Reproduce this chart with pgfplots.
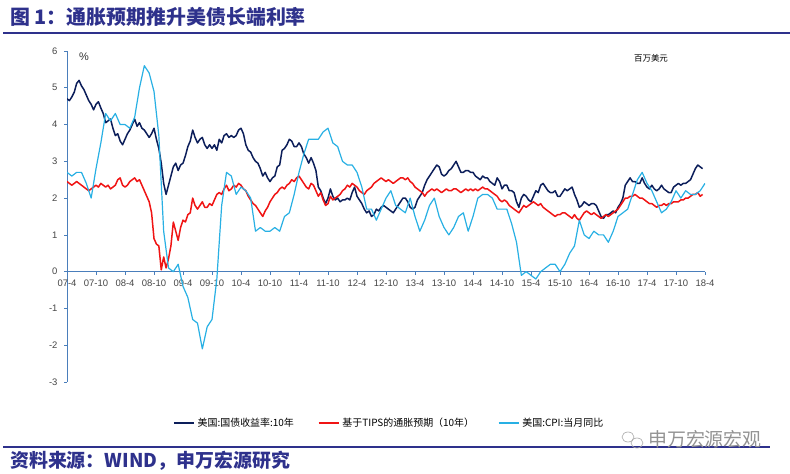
\documentclass[border=0pt]{standalone}
\usepackage{pgfplots}
\pgfplotsset{compat=1.18}
\usepackage{fontspec}
\setmainfont{Liberation Sans}
\newfontfamily\cjk{Noto Sans CJK SC}
\definecolor{navy}{RGB}{12,30,90}
\definecolor{tipsred}{RGB}{240,20,20}
\definecolor{cpiblue}{RGB}{40,176,228}
\definecolor{axisblue}{RGB}{74,126,187}
\definecolor{titleblue}{RGB}{46,49,140}
\definecolor{ticktext}{RGB}{70,70,70}
\begin{document}
\begin{tikzpicture}
\begin{scope}[x=1bp,y=1bp]
\useasboundingbox (0,0) rectangle (790,474);
\fill[white] (0,0) rectangle (790,474);
\node[anchor=west,inner sep=0pt,text=titleblue,font=\cjk\bfseries\fontsize{20}{22}\selectfont] at (10,457) {图 1：通胀预期推升美债长端利率};
\draw[titleblue,line width=1.5bp] (3,441) -- (790,441);
\draw[titleblue,line width=1.5bp] (3,27) -- (770,27);
\node[anchor=west,inner sep=0pt,text=titleblue,font=\cjk\bfseries\fontsize{19}{21}\selectfont] at (10,13) {资料来源：WIND，申万宏源研究};
\draw[gray!70,line width=0.6bp] (628,37) ellipse (6 and 5);
\draw[gray!70,line width=0.6bp] (637,31) ellipse (6 and 5);
\node[anchor=west,inner sep=0pt,text=gray!85,font=\cjk\fontsize{19}{21}\selectfont] at (648,35) {申万宏源宏观};
\node[anchor=center,inner sep=0pt,font=\fontsize{11}{12}\selectfont,text=black!80] at (84,417) {\%};
\node[anchor=center,inner sep=0pt,font=\cjk\fontsize{8.5}{10}\selectfont] at (651,416) {百万美元};
\end{scope}
\begin{axis}[
  at={(67bp,92bp)}, anchor=south west,
  scale only axis, width=638bp, height=331bp,
  xmin=0, xmax=132, ymin=-3, ymax=6,
  axis x line*=middle, axis y line*=left,
  hide obscured x ticks=false, hide obscured y ticks=false,
  axis line style={axisblue,line width=0.9bp},
  xtick={0,6,...,132},
  xticklabels={07-4,07-10,08-4,08-10,09-4,09-10,10-4,10-10,11-4,11-10,12-4,12-10,13-4,13-10,14-4,14-10,15-4,15-10,16-4,16-10,17-4,17-10,18-4},
  ytick={-3,-2,-1,0,1,2,3,4,5,6},
  yticklabels={-3,-2,-1,0,1,2,3,4,5,6},
  tick align=outside, major tick length=3bp,
  tick style={axisblue,line width=0.7bp},
  xticklabel style={font=\fontsize{9.5}{10}\selectfont,text=ticktext,yshift=-2bp},
  yticklabel style={font=\fontsize{9.5}{10}\selectfont,text=ticktext,xshift=-3bp},
  legend columns=3,
  legend style={draw=none,fill=none,at={(0.505,-0.124)},anchor=center,
    font=\cjk\fontsize{10}{12}\selectfont,
    /tikz/every odd column/.append style={column sep=1bp},
    /tikz/every even column/.append style={column sep=22bp}},
  legend image code/.code={\draw[#1] (0bp,0bp) -- (20bp,0bp);},
  line join=round,
]
\addplot[navy,line width=1.5bp] coordinates {(0,4.70)(0.5,4.65)(1,4.75)(1.5,4.88)(2,5.12)(2.5,5.20)(3,5.05)(3.5,4.95)(4,4.80)(4.5,4.65)(5,4.55)(5.5,4.40)(6,4.55)(6.5,4.62)(7,4.45)(7.5,4.30)(8,4.05)(8.5,4.10)(9,4.15)(9.5,3.90)(10,3.70)(10.5,3.75)(11,3.55)(11.5,3.45)(12,3.60)(12.5,3.75)(13,3.85)(13.5,4.00)(14,4.15)(14.5,3.95)(15,4.05)(15.5,3.90)(16,3.85)(16.5,3.75)(17,3.65)(17.5,3.75)(18,3.90)(18.5,3.60)(19,3.35)(19.5,2.95)(20,2.40)(20.5,2.10)(21,2.35)(21.5,2.60)(22,2.85)(22.5,2.95)(23,2.75)(23.5,2.90)(24,2.95)(24.5,3.15)(25,3.40)(25.5,3.55)(26,3.85)(26.5,3.65)(27,3.50)(27.5,3.60)(28,3.65)(28.5,3.45)(29,3.35)(29.5,3.45)(30,3.35)(30.5,3.45)(31,3.30)(31.5,3.60)(32,3.50)(32.5,3.70)(33,3.75)(33.5,3.65)(34,3.70)(34.5,3.65)(35,3.70)(35.5,3.85)(36,3.90)(36.5,3.75)(37,3.45)(37.5,3.30)(38,3.25)(38.5,3.10)(39,3.00)(39.5,2.95)(40,2.80)(40.5,2.60)(41,2.70)(41.5,2.55)(42,2.45)(42.5,2.55)(43,2.60)(43.5,2.85)(44,2.90)(44.5,3.30)(45,3.35)(45.5,3.45)(46,3.60)(46.5,3.55)(47,3.40)(47.5,3.40)(48,3.50)(48.5,3.40)(49,3.20)(49.5,3.10)(50,2.95)(50.5,3.10)(51,2.95)(51.5,2.75)(52,2.30)(52.5,2.20)(53,2.00)(53.5,1.85)(54,2.00)(54.5,2.25)(55,2.05)(55.5,1.95)(56,2.00)(56.5,1.90)(57,1.95)(57.5,1.95)(58,2.00)(58.5,1.95)(59,2.15)(59.5,2.30)(60,2.05)(60.5,1.95)(61,1.85)(61.5,1.70)(62,1.60)(62.5,1.65)(63,1.50)(63.5,1.55)(64,1.70)(64.5,1.65)(65,1.75)(65.5,1.80)(66,1.75)(66.5,1.70)(67,1.65)(67.5,1.60)(68,1.70)(68.5,1.80)(69,1.90)(69.5,2.00)(70,2.00)(70.5,1.90)(71,1.75)(71.5,1.70)(72,1.75)(72.5,1.95)(73,2.05)(73.5,2.15)(74,2.35)(74.5,2.50)(75,2.60)(75.5,2.70)(76,2.80)(76.5,2.90)(77,2.85)(77.5,2.65)(78,2.60)(78.5,2.65)(79,2.75)(79.5,2.80)(80,2.90)(80.5,3.00)(81,2.85)(81.5,2.70)(82,2.70)(82.5,2.75)(83,2.75)(83.5,2.70)(84,2.70)(84.5,2.60)(85,2.55)(85.5,2.50)(86,2.60)(86.5,2.55)(87,2.55)(87.5,2.45)(88,2.40)(88.5,2.35)(89,2.55)(89.5,2.45)(90,2.25)(90.5,2.35)(91,2.35)(91.5,2.20)(92,2.20)(92.5,2.15)(93,1.90)(93.5,1.75)(94,2.00)(94.5,2.10)(95,2.05)(95.5,1.95)(96,1.90)(96.5,2.05)(97,2.20)(97.5,2.15)(98,2.35)(98.5,2.40)(99,2.30)(99.5,2.20)(100,2.15)(100.5,2.15)(101,2.20)(101.5,2.05)(102,2.05)(102.5,2.15)(103,2.25)(103.5,2.20)(104,2.25)(104.5,2.30)(105,2.10)(105.5,1.95)(106,1.75)(106.5,1.80)(107,1.90)(107.5,1.85)(108,1.80)(108.5,1.85)(109,1.85)(109.5,1.80)(110,1.65)(110.5,1.50)(111,1.45)(111.5,1.55)(112,1.55)(112.5,1.60)(113,1.65)(113.5,1.60)(114,1.75)(114.5,1.85)(115,2.00)(115.5,2.35)(116,2.45)(116.5,2.55)(117,2.45)(117.5,2.45)(118,2.40)(118.5,2.40)(119,2.55)(119.5,2.40)(120,2.30)(120.5,2.25)(121,2.35)(121.5,2.25)(122,2.20)(122.5,2.25)(123,2.35)(123.5,2.25)(124,2.20)(124.5,2.15)(125,2.15)(125.5,2.30)(126,2.35)(126.5,2.40)(127,2.35)(127.5,2.40)(128,2.40)(128.5,2.45)(129,2.50)(129.5,2.65)(130,2.80)(130.5,2.90)(131,2.85)(131.5,2.80)};
\addlegendentry{美国:国债收益率:10年}
\addplot[tipsred,line width=1.5bp] coordinates {(0,2.45)(0.5,2.40)(1,2.35)(1.5,2.40)(2,2.45)(2.5,2.40)(3,2.35)(3.5,2.30)(4,2.25)(4.5,2.20)(5,2.25)(5.5,2.30)(6,2.35)(6.5,2.30)(7,2.40)(7.5,2.35)(8,2.30)(8.5,2.35)(9,2.25)(9.5,2.30)(10,2.35)(10.5,2.50)(11,2.55)(11.5,2.35)(12,2.30)(12.5,2.35)(13,2.45)(13.5,2.50)(14,2.55)(14.5,2.45)(15,2.50)(15.5,2.35)(16,2.20)(16.5,2.05)(17,1.90)(17.5,1.60)(18,0.90)(18.5,0.75)(19,0.70)(19.5,0.05)(20,0.40)(20.5,0.10)(21,0.35)(21.5,0.70)(22,1.35)(22.5,1.10)(23,0.85)(23.5,1.20)(24,1.40)(24.5,1.35)(25,1.55)(25.5,1.60)(26,2.00)(26.5,1.80)(27,1.70)(27.5,1.80)(28,1.90)(28.5,1.75)(29,1.75)(29.5,1.85)(30,1.80)(30.5,1.95)(31,2.10)(31.5,2.15)(32,2.10)(32.5,2.25)(33,2.35)(33.5,2.20)(34,2.25)(34.5,2.35)(35,2.30)(35.5,2.40)(36,2.35)(36.5,2.25)(37,2.20)(37.5,2.05)(38,1.95)(38.5,1.85)(39,1.80)(39.5,1.70)(40,1.60)(40.5,1.50)(41,1.65)(41.5,1.75)(42,1.90)(42.5,2.00)(43,2.10)(43.5,2.15)(44,2.25)(44.5,2.30)(45,2.25)(45.5,2.35)(46,2.40)(46.5,2.50)(47,2.45)(47.5,2.55)(48,2.60)(48.5,2.50)(49,2.40)(49.5,2.30)(50,2.25)(50.5,2.40)(51,2.35)(51.5,2.20)(52,2.05)(52.5,2.15)(53,1.95)(53.5,1.80)(54,1.85)(54.5,2.05)(55,1.95)(55.5,2.00)(56,2.05)(56.5,2.10)(57,2.20)(57.5,2.25)(58,2.35)(58.5,2.30)(59,2.40)(59.5,2.35)(60,2.30)(60.5,2.20)(61,2.15)(61.5,2.10)(62,2.20)(62.5,2.25)(63,2.30)(63.5,2.40)(64,2.45)(64.5,2.50)(65,2.55)(65.5,2.50)(66,2.45)(66.5,2.50)(67,2.45)(67.5,2.40)(68,2.45)(68.5,2.50)(69,2.55)(69.5,2.55)(70,2.50)(70.5,2.55)(71,2.45)(71.5,2.40)(72,2.30)(72.5,2.25)(73,2.20)(73.5,2.15)(74,2.05)(74.5,2.15)(75,2.20)(75.5,2.25)(76,2.20)(76.5,2.25)(77,2.20)(77.5,2.15)(78,2.20)(78.5,2.25)(79,2.20)(79.5,2.20)(80,2.25)(80.5,2.25)(81,2.20)(81.5,2.15)(82,2.20)(82.5,2.25)(83,2.20)(83.5,2.25)(84,2.20)(84.5,2.25)(85,2.20)(85.5,2.25)(86,2.30)(86.5,2.25)(87,2.25)(87.5,2.20)(88,2.15)(88.5,2.10)(89,2.05)(89.5,1.95)(90,1.90)(90.5,1.95)(91,1.90)(91.5,1.80)(92,1.75)(92.5,1.70)(93,1.65)(93.5,1.60)(94,1.70)(94.5,1.80)(95,1.75)(95.5,1.80)(96,1.85)(96.5,1.90)(97,1.85)(97.5,1.80)(98,1.85)(98.5,1.75)(99,1.70)(99.5,1.65)(100,1.60)(100.5,1.55)(101,1.50)(101.5,1.55)(102,1.55)(102.5,1.60)(103,1.60)(103.5,1.55)(104,1.50)(104.5,1.45)(105,1.55)(105.5,1.45)(106,1.40)(106.5,1.50)(107,1.60)(107.5,1.65)(108,1.60)(108.5,1.55)(109,1.60)(109.5,1.55)(110,1.50)(110.5,1.45)(111,1.50)(111.5,1.55)(112,1.50)(112.5,1.55)(113,1.60)(113.5,1.65)(114,1.70)(114.5,1.80)(115,1.90)(115.5,2.00)(116,2.00)(116.5,2.05)(117,2.05)(117.5,2.10)(118,2.05)(118.5,2.00)(119,2.00)(119.5,1.95)(120,1.90)(120.5,1.85)(121,1.85)(121.5,1.80)(122,1.75)(122.5,1.80)(123,1.80)(123.5,1.85)(124,1.80)(124.5,1.85)(125,1.85)(125.5,1.90)(126,1.90)(126.5,1.90)(127,1.95)(127.5,1.95)(128,2.00)(128.5,2.00)(129,2.05)(129.5,2.10)(130,2.10)(130.5,2.15)(131,2.05)(131.5,2.10)};
\addlegendentry{基于TIPS的通胀预期（10年）}
\addplot[cpiblue,line width=1.2bp] coordinates {(0,2.7)(1,2.6)(2,2.7)(3,2.7)(4,2.4)(5,2.0)(6,2.8)(7,3.5)(8,4.3)(9,4.1)(10,4.3)(11,4.0)(12,4.0)(13,3.9)(14,4.2)(15,5.0)(16,5.6)(17,5.4)(18,4.9)(19,3.7)(20,1.1)(21,0.1)(22,0.0)(23,0.2)(24,-0.4)(25,-0.7)(26,-1.3)(27,-1.4)(28,-2.1)(29,-1.5)(30,-1.3)(31,-0.2)(32,1.8)(33,2.7)(34,2.6)(35,2.1)(36,2.3)(37,2.2)(38,2.0)(39,1.1)(40,1.2)(41,1.1)(42,1.1)(43,1.2)(44,1.1)(45,1.5)(46,1.6)(47,2.1)(48,2.7)(49,3.2)(50,3.6)(51,3.6)(52,3.6)(53,3.8)(54,3.9)(55,3.5)(56,3.4)(57,3.0)(58,2.9)(59,2.9)(60,2.7)(61,2.3)(62,1.7)(63,1.7)(64,1.4)(65,1.7)(66,2.0)(67,2.2)(68,1.8)(69,1.7)(70,1.6)(71,2.0)(72,1.5)(73,1.1)(74,1.4)(75,1.8)(76,2.0)(77,1.5)(78,1.2)(79,1.0)(80,1.2)(81,1.5)(82,1.6)(83,1.1)(84,1.5)(85,2.0)(86,2.1)(87,2.1)(88,2.0)(89,1.7)(90,1.7)(91,1.7)(92,1.3)(93,0.8)(94,-0.1)(95,0.0)(96,-0.1)(97,-0.2)(98,0.0)(99,0.1)(100,0.2)(101,0.2)(102,0.0)(103,0.2)(104,0.5)(105,0.7)(106,1.4)(107,1.0)(108,0.9)(109,1.1)(110,1.0)(111,1.0)(112,0.8)(113,1.1)(114,1.5)(115,1.6)(116,1.7)(117,2.1)(118,2.5)(119,2.7)(120,2.4)(121,2.2)(122,1.9)(123,1.6)(124,1.7)(125,1.9)(126,2.2)(127,2.0)(128,2.2)(129,2.1)(130,2.1)(131,2.2)(132,2.4)};
\addlegendentry{美国:CPI:当月同比}
\end{axis}
\end{tikzpicture}
\end{document}
